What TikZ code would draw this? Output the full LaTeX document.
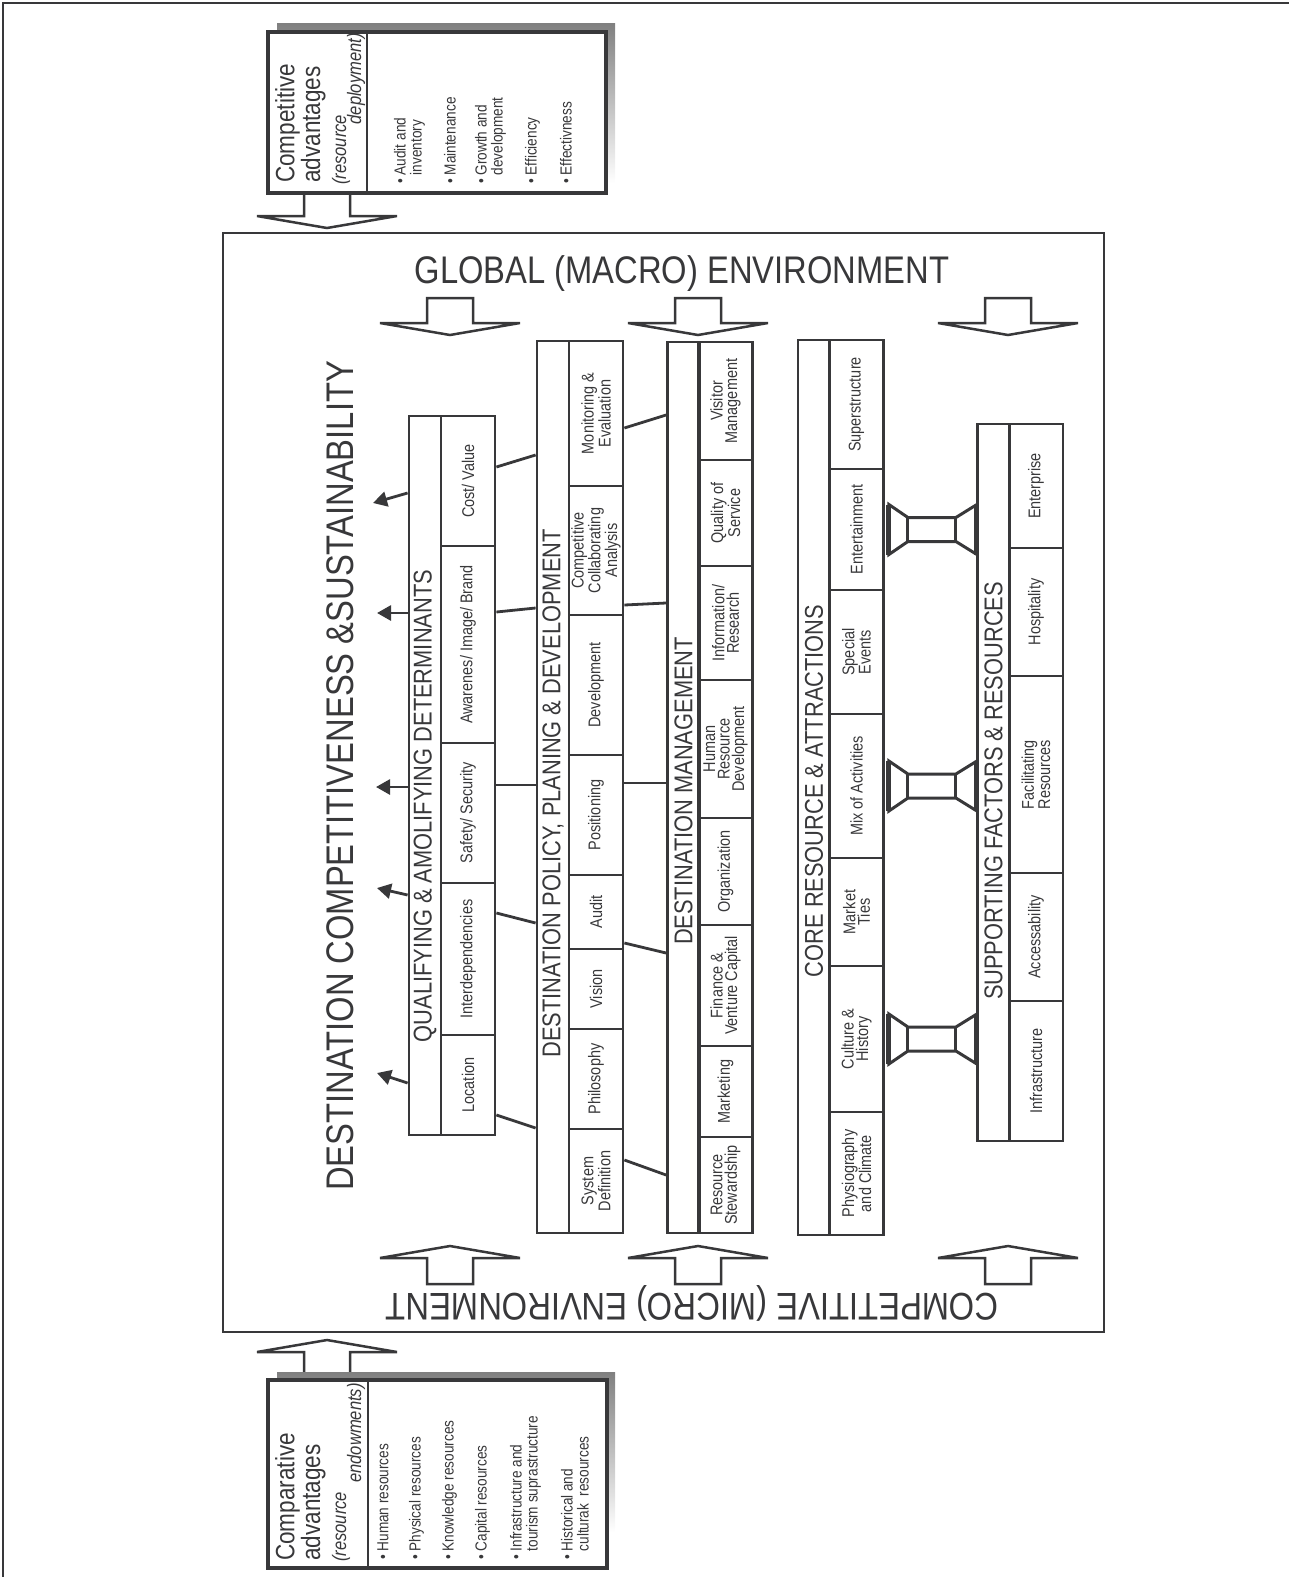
\documentclass[tikz,border=0pt]{standalone}
\usepackage{fontspec}
\setmainfont[FakeStretch=0.85]{Liberation Sans}
\definecolor{ink}{RGB}{56,56,58}
\definecolor{shade}{RGB}{163,163,168}
\usetikzlibrary{arrows.meta}
\newcommand{\bul}[1]{\textbullet\ \begin{tabular}[t]{@{}l@{}}#1\end{tabular}}
\tikzset{
  outline/.style={draw=ink, line width=2.5pt},
  panel/.style={draw=ink, line width=3.2pt, fill=white},
  colbox/.style={draw=ink, line width=2.8pt, rotate=90, minimum height=32pt, inner sep=0pt},
  cellbox/.style={draw=ink, line width=2.8pt, rotate=90, minimum height=54pt, inner sep=1pt,
              text=ink, align=center, font=\fontsize{17}{14.5}\selectfont},
  headtxt/.style={rotate=90, text=ink, inner sep=0pt, font=\fontsize{25.7}{28}\selectfont},
  bigtxt/.style={text=ink, inner sep=0pt, font=\fontsize{38.5}{40}\selectfont},
  listtxt/.style={rotate=90, anchor=west, text=ink, inner sep=0pt, align=left,
              font=\fontsize{16}{15}\selectfont},
  advtxt/.style={rotate=90, anchor=north west, text=ink, inner sep=0pt, align=left,
              font=\fontsize{26.5}{20}\selectfont},
  srctxt/.style={rotate=90, anchor=base west, text=ink, inner sep=0pt,
              font=\fontsize{19.5}{20}\selectfont\itshape},
  linkline/.style={ink, line width=2.8pt},
  outarrow/.style={-{Triangle[length=14pt,width=15pt]}, ink, line width=2.8pt},
  holarrow/.style={draw=ink, line width=2.5pt, line join=miter, fill=white},
  pics/block/.style={code={
    \draw[holarrow] (-23,-#1) -- (-23,0) -- (-70,0) -- (0,12) -- (70,0) -- (23,0) -- (23,-#1) -- cycle;}},
  pics/bridge/.style={code={
    \draw[ink, line width=3pt, line join=miter] (4,-25) -- (23,-12) -- (71,-12) -- (92,-25)
      -- (92,25) -- (71,12) -- (23,12) -- (4,25) -- cycle;
    \draw[ink, line width=3pt] (23,-12) -- (23,12) (71,-12) -- (71,12);
    \draw[ink, line width=5pt] (4,-25) -- (4,25) (92,-25) -- (92,25);}},
}
\begin{document}
\begin{tikzpicture}[x=1pt,y=-1pt]
\useasboundingbox (0,0) rectangle (1289,1577);
\draw[outline] (1289,3) -- (3,3) -- (3,1577);

% competitive advantages
\pic at (327,216) {block=23};
\fill[shade] (277,23) rectangle (615,183);
\draw[panel] (268,32) rectangle (606,193);
\draw[ink, line width=2.5pt] (367,32) -- (367,193);
\node[advtxt](cpt) at (275,183){Competitive\\advantages};
\node[srctxt](dep1) at (346,185){(resource};
\node[srctxt,anchor=base east](dep2) at (361,33){deployment)};
\node[listtxt](u1) at (410,184){\bul{Audit and\\inventory}};
\node[listtxt](u2) at (452,184){\bul{Maintenance}};
\node[listtxt](u3) at (491,184){\bul{Growth and\\development}};
\node[listtxt](u4) at (533,184){\bul{Efficiency}};
\node[listtxt](u5) at (568,184){\bul{Effectivness}};

% comparative advantages
\pic[yscale=-1] at (327,1352) {block=26};
\fill[shade] (277,1372) rectangle (615,1532);
\draw[panel] (268,1380) rectangle (607,1568);
\draw[ink, line width=2.5pt] (368,1380) -- (368,1568);
\node[advtxt](cmp) at (275,1561){Comparative\\advantages};
\node[srctxt](end1) at (346,1562){(resource};
\node[srctxt](end2) at (361,1483){endowments)};
\node[listtxt](d1) at (385,1560){\bul{Human resources}};
\node[listtxt](d2) at (417,1560){\bul{Physical resources}};
\node[listtxt](d3) at (450,1560){\bul{Knowledge resources}};
\node[listtxt](d4) at (483,1560){\bul{Capital resources}};
\node[listtxt](d5) at (526,1560){\bul{Infrastructure and\\tourism suprastructure}};
\node[listtxt](d6) at (577,1560){\bul{Historical and\\culturak\ \ resources}};

% environment
\draw[outline] (223,233) rectangle (1104,1332);
\node[bigtxt](glob) at (682,274){GLOBAL (MACRO) ENVIRONMENT};
\node[bigtxt,rotate=180](micro) at (692,1303){COMPETITIVE (MICRO) ENVIRONMENT};
\node[bigtxt,rotate=90](dest) at (340,776){DESTINATION COMPETITIVENESS \&SUSTAINABILITY};
\pic at (450,323) {block=25};
\pic at (698,323) {block=25};
\pic at (1008,323) {block=25};
\pic[yscale=-1] at (450,1258) {block=26};
\pic[yscale=-1] at (698,1258) {block=26};
\pic[yscale=-1] at (1008,1258) {block=26};

% qualifying
\node[colbox,minimum width=719pt](qual) at (425,775.5){};
\node[headtxt](hq) at (425,806){QUALIFYING \& AMOLIFYING DETERMINANTS};
\node[cellbox,minimum width=130pt](cv) at (468,481){Cost/ Value};
\node[cellbox,minimum width=197pt](aib) at (468,644.5){Awarenes/ Image/ Brand};
\node[cellbox,minimum width=140pt](sf) at (468,813){Safety/ Security};
\node[cellbox,minimum width=152pt](ind) at (468,959){Interdependencies};
\node[cellbox,minimum width=100pt](loc) at (468,1085){Location};

% policy
\node[colbox,minimum width=892pt](pol) at (553,787){};
\node[headtxt](hp) at (553,793.5){DESTINATION POLICY, PLANING \& DEVELOPMENT};
\node[cellbox,minimum width=145pt](me) at (596,413.5){Monitoring \&\\Evaluation};
\node[cellbox,minimum width=129pt](cca) at (596,550.5){Competitive\\Collaborating\\Analysis};
\node[cellbox,minimum width=140pt](dev) at (596,685){Development};
\node[cellbox,minimum width=120pt](pos) at (596,815){Positioning};
\node[cellbox,minimum width=74pt](aud) at (596,912){Audit};
\node[cellbox,minimum width=80pt](vis) at (596,989){Vision};
\node[cellbox,minimum width=100pt](phi) at (596,1079){Philosophy};
\node[cellbox,minimum width=104pt](sd) at (596,1181){System\\Definition};

% management
\node[colbox,minimum width=891pt](mgmt) at (683.5,787.5){};
\node[headtxt](hm) at (683.5,791){DESTINATION MANAGEMENT};
\node[cellbox,minimum width=118pt](vm) at (725.5,401){Visitor\\Management};
\node[cellbox,minimum width=106pt](qos) at (725.5,513){Quality of\\Service};
\node[cellbox,minimum width=114pt](ir) at (725.5,623){Information/\\Research};
\node[cellbox,minimum width=138pt](hrd) at (725.5,749){Human\\Resource\\Development};
\node[cellbox,minimum width=107pt](org) at (725.5,871.5){Organization};
\node[cellbox,minimum width=121pt](fvc) at (725.5,985.5){Finance \&\\Venture Capital};
\node[cellbox,minimum width=91pt](mkt) at (725.5,1091.5){Marketing};
\node[cellbox,minimum width=96pt](rst) at (725.5,1185){Resource\\Stewardship};

% core resources
\node[colbox,minimum width=895pt](core) at (814,787.5){};
\node[headtxt](hc) at (814,791){CORE RESOURCE \& ATTRACTIONS};
\node[cellbox,minimum width=129pt](sup) at (856.5,404.5){Superstructure};
\node[cellbox,minimum width=121pt](ent) at (856.5,529.5){Entertainment};
\node[cellbox,minimum width=124pt](sev) at (856.5,652){Special\\Events};
\node[cellbox,minimum width=144pt](moa) at (856.5,786){Mix of Activities};
\node[cellbox,minimum width=108pt](mt) at (856.5,912){Market\\Ties};
\node[cellbox,minimum width=146pt](ch) at (856.5,1039){Culture \&\\History};
\node[cellbox,minimum width=123pt](pc) at (856.5,1173.5){Physiography\\and Climate};

% supporting factors
\node[colbox,minimum width=717pt](supp) at (993.5,782.5){};
\node[headtxt](hs) at (993.5,791){SUPPORTING FACTORS \& RESOURCES};
\node[cellbox,minimum width=124pt](epr) at (1036,486){Enterprise};
\node[cellbox,minimum width=128pt](hos) at (1036,612){Hospitality};
\node[cellbox,minimum width=197pt](fr) at (1036,774.5){Facilitating\\Resources};
\node[cellbox,minimum width=128pt](acc) at (1036,937){Accessability};
\node[cellbox,minimum width=140pt](inf) at (1036,1071){Infrastructure};

\pic at (ent.south) {bridge};
\pic at (moa.south) {bridge};
\pic at (ch.south) {bridge};

% links
\draw[linkline] (cv.south |- 0,467) -- (pol.north |- 0,455);
\draw[linkline] (aib.south |- 0,612) -- (pol.north |- 0,608);
\draw[linkline] (sf.south |- 0,785) -- (pol.north |- 0,785);
\draw[linkline] (ind.south |- 0,913) -- (pol.north |- 0,923);
\draw[linkline] (loc.south |- 0,1115) -- (pol.north |- 0,1128);
\draw[linkline] (me.south |- 0,428) -- (mgmt.north |- 0,415);
\draw[linkline] (cca.south |- 0,605) -- (mgmt.north |- 0,603);
\draw[linkline] (pos.south |- 0,783) -- (mgmt.north |- 0,783);
\draw[linkline] (aud.south |- 0,943) -- (mgmt.north |- 0,953);
\draw[linkline] (sd.south |- 0,1160) -- (mgmt.north |- 0,1175);

\coordinate (a1) at (373,503);
\coordinate (a2) at (377,613);
\coordinate (a3) at (376,787);
\coordinate (a4) at (377,888);
\coordinate (a5) at (377,1073);
\draw[outarrow] (qual.north |- 0,493) -- (a1);
\draw[outarrow] (qual.north |- 0,613) -- (a2);
\draw[outarrow] (qual.north |- 0,787) -- (a3);
\draw[outarrow] (qual.north |- 0,895) -- (a4);
\draw[outarrow] (qual.north |- 0,1083) -- (a5);
\end{tikzpicture}
\end{document}
